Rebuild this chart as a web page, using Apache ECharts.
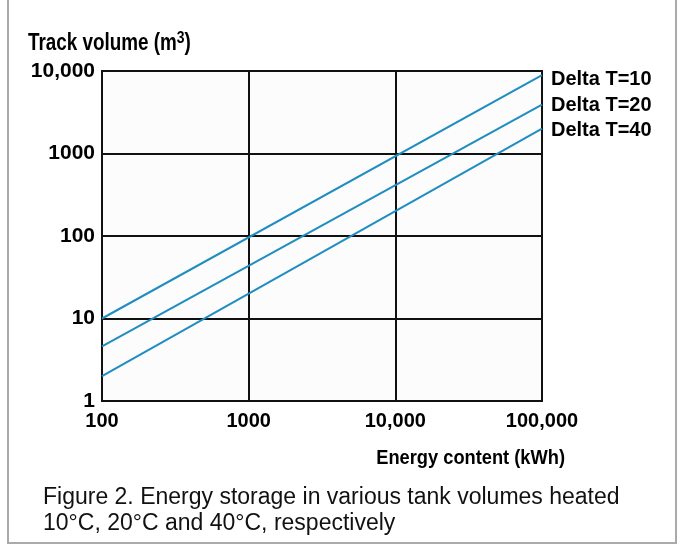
<!DOCTYPE html>
<html>
<head>
<meta charset="utf-8">
<script src="https://cdn.jsdelivr.net/npm/echarts@6/dist/echarts.min.js"></script>
<style>
html,body{margin:0;padding:0;background:#fff;}
#c{width:681px;height:549px;}
</style>
</head>
<body>
<div id="c"></div>
<script>
// Data
const energyKWh = [100, 100000];
const deltaT10 = [10, 8900];
const deltaT20 = [4.6, 3900];
const deltaT40 = [2.0, 2000];
const seriesNames = ['Delta T=10', 'Delta T=20', 'Delta T=40'];
const xTickLabels = {100: '100', 1000: '1000', 10000: '10,000', 100000: '100,000'};
const yTickLabels = {1: '1', 10: '10', 100: '100', 1000: '1000', 10000: '10,000'};

const BOLDFONT = '"Liberation Sans", Arial, sans-serif';
const lineColor = '#1f8dc0';

function pairs(xs, ys) { return xs.map((x, i) => [x, ys[i]]); }

const chart = echarts.init(document.getElementById('c'), null, {renderer: 'canvas'});
const endOffsets = [[0, 4], [0, 1], [0, 2]];
const allData = [deltaT10, deltaT20, deltaT40];

chart.setOption({
  animation: false,
  backgroundColor: '#ffffff',
  grid: {
    left: 102, top: 71, width: 440, height: 330,
    show: true, backgroundColor: '#fcfcfc', borderColor: '#111', borderWidth: 2
  },
  xAxis: {
    type: 'log', logBase: 10, min: 100, max: 100000,
    axisLine: {show: true, lineStyle: {color: '#111', width: 2}},
    axisTick: {show: false},
    splitLine: {show: true, lineStyle: {color: '#111', width: 2}},
    axisLabel: {
      formatter: v => xTickLabels[Math.round(v)] || '',
      color: '#000', fontFamily: BOLDFONT, fontWeight: 'bold', fontSize: 20, margin: 10
    }
  },
  yAxis: {
    type: 'log', logBase: 10, min: 1, max: 10000,
    axisLine: {show: true, lineStyle: {color: '#111', width: 2}},
    axisTick: {show: false},
    splitLine: {show: true, lineStyle: {color: '#111', width: 2}},
    axisLabel: {
      formatter: v => yTickLabels[Math.round(v)] || '',
      color: '#000', fontFamily: BOLDFONT, fontWeight: 'bold', fontSize: 21, margin: 7
    }
  },
  series: seriesNames.map((name, i) => ({
    name: name,
    type: 'line',
    data: pairs(energyKWh, allData[i]),
    showSymbol: false,
    symbol: 'none',
    lineStyle: {color: lineColor, width: 2},
    endLabel: {
      show: true, formatter: '{a}', distance: 9, offset: endOffsets[i],
      color: '#000', fontFamily: BOLDFONT, fontWeight: 'bold', fontSize: 20
    }
  })),
  graphic: [
    {
      type: 'rect', silent: true,
      shape: {x: 8, y: -5, width: 668, height: 548},
      style: {fill: 'none', stroke: '#aaa', lineWidth: 2}
    },
    {
      type: 'text', x: 28, y: 44, scaleX: 0.82,
      style: {
        text: '{b|Track volume (m}{s|3}{b|)}',
        fill: '#000', fontFamily: BOLDFONT, fontWeight: 'bold', fontSize: 23,
        textVerticalAlign: 'middle',
        rich: {
          b: {fontFamily: BOLDFONT, fontWeight: 'bold', fontSize: 23, fill: '#000'},
          s: {fontFamily: BOLDFONT, fontWeight: 'bold', fontSize: 17, verticalAlign: 'bottom', padding: [0, 0, 12, 0], fill: '#000'}
        }
      }
    },
    {
      type: 'text', x: 565, y: 458, scaleX: 0.87,
      style: {text: 'Energy content (kWh)', fill: '#000', fontFamily: BOLDFONT, fontWeight: 'bold', fontSize: 21,
        textAlign: 'right', textVerticalAlign: 'middle'}
    },
    {
      type: 'text', x: 43, y: 485,
      style: {
        text: 'Figure 2. Energy storage in various tank volumes heated\n10°C, 20°C and 40°C, respectively',
        fill: '#111', fontFamily: '"Liberation Sans", Arial, sans-serif', fontSize: 23, lineHeight: 26
      }
    }
  ]
});
</script>
</body>
</html>
